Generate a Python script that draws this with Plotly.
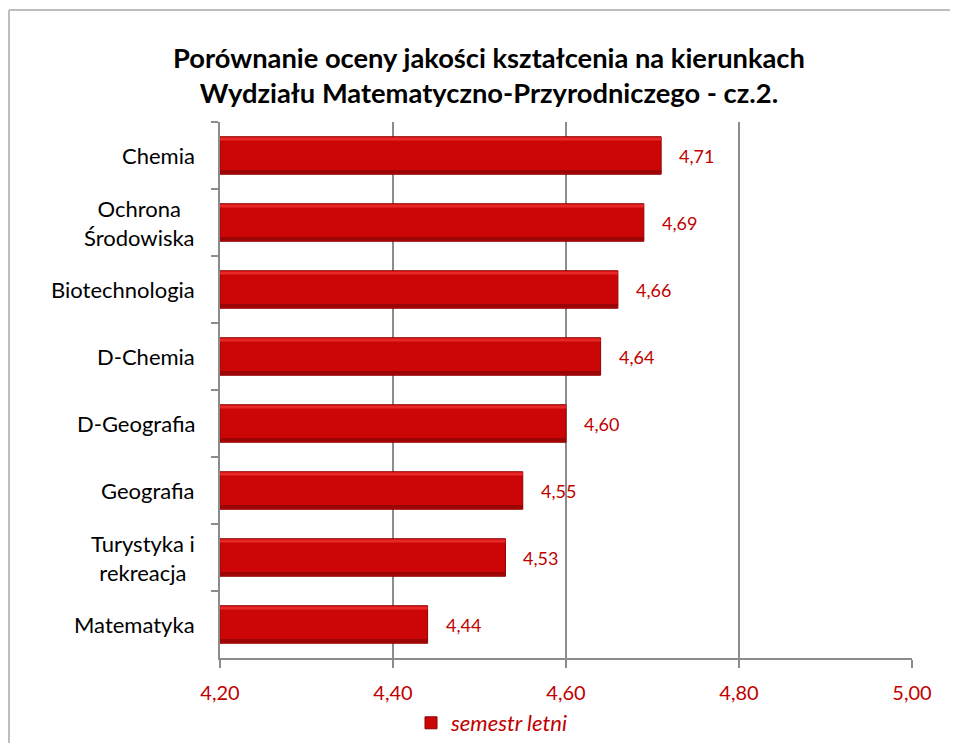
import plotly.graph_objects as go

categories = ["Chemia", "Ochrona Środowiska", "Biotechnologia", "D-Chemia",
              "D-Geografia", "Geografia", "Turystyka i rekreacja", "Matematyka"]
category_labels = ["Chemia", "Ochrona<br>Środowiska", "Biotechnologia", "D-Chemia",
                   "D-Geografia", "Geografia", "Turystyka i<br>rekreacja", "Matematyka"]
values = [4.71, 4.69, 4.66, 4.64, 4.60, 4.55, 4.53, 4.44]
x_ticks = [4.20, 4.40, 4.60, 4.80, 5.00]
x_tick_labels = ["4,20", "4,40", "4,60", "4,80", "5,00"]
series_name = "semestr letni"
title_lines = ["Porównanie oceny jakości kształcenia na kierunkach",
               "Wydziału Matematyczno-Przyrodniczego - cz.2."]

FONT = "Lato, Carlito, Calibri, sans-serif"
RED_TEXT = "#C00000"
BAR_W = 0.56
base = 4.20
lengths = [v - base for v in values]

# page offset (browser body margin) so figure coords = screen - OFF
OFF = 8
W, H = 942, 735
L, T = 220 - OFF, 122 - OFF
PR, PB = 912 - OFF, 658 - OFF
R, B = W - PR, H - PB
pw, ph = PR - L, PB - T


def cx(xs):
    return (xs - OFF) / W


def cy(ys):
    return 1 - (ys - OFF) / H


fig = go.Figure()
fig.add_trace(go.Bar(
    y=categories, x=lengths, base=base, orientation="h", width=BAR_W,
    name=series_name,
    marker=dict(color="#CC0606", line=dict(color="#8E0000", width=1)),
    showlegend=True, hoverinfo="skip",
))
fig.add_trace(go.Bar(
    y=categories, x=lengths, base=base, orientation="h", width=0.045,
    offset=-BAR_W / 2 + 0.012,
    marker=dict(color="#E82828", line=dict(width=0)),
    showlegend=False, hoverinfo="skip",
))
fig.add_trace(go.Bar(
    y=categories, x=lengths, base=base, orientation="h", width=0.05,
    offset=BAR_W / 2 - 0.062,
    marker=dict(color="#9A0505", line=dict(width=0)),
    showlegend=False, hoverinfo="skip",
))

annotations = []
for c, v in zip(categories, values):
    annotations.append(dict(
        x=v, y=c, xref="x", yref="y", text=f"{v:.2f}".replace(".", ","),
        xanchor="left", yanchor="middle", xshift=16, showarrow=False,
        font=dict(family=FONT, size=18, color=RED_TEXT),
    ))
for c, lab in zip(categories, category_labels):
    annotations.append(dict(
        x=0, y=c, xref="paper", yref="y", text=lab, align="center",
        xanchor="right", yanchor="middle", xshift=-23, showarrow=False,
        font=dict(family=FONT, size=22, color="#000000"),
    ))

# chart-area border: only the top and left edges are inside the picture
px_left = (OFF + 1 - OFF - L) / pw
py_top = (PB - (10 - OFF)) / ph
border = dict(color="#BDBDBD", width=2)
shapes = [
    dict(type="line", xref="paper", yref="paper", x0=px_left, x1=1.2,
         y0=py_top, y1=py_top, line=border, layer="below"),
    dict(type="line", xref="paper", yref="paper", x0=px_left, x1=px_left,
         y0=py_top, y1=-0.3, line=border, layer="below"),
]

fig.update_layout(
    width=W, height=H,
    margin=dict(l=L, r=R, t=T, b=B, autoexpand=False),
    paper_bgcolor="white", plot_bgcolor="white",
    barmode="overlay",
    title=dict(text="<br>".join("<b>" + t + "</b>" for t in title_lines),
               x=cx(489), xref="container", xanchor="center",
               y=cy(68), yref="container", yanchor="middle",
               font=dict(family=FONT, size=27.3, color="#000000")),
    xaxis=dict(range=[4.20, 5.00], tickvals=x_ticks, ticktext=x_tick_labels,
               showgrid=True, gridcolor="#8C8C8C", gridwidth=2,
               showline=True, linecolor="#8C8C8C", linewidth=2,
               ticks="outside", ticklen=8, tickcolor="#8C8C8C", tickwidth=2,
               ticklabelstandoff=8,
               tickfont=dict(family=FONT, size=20, color=RED_TEXT),
               zeroline=False, fixedrange=True),
    yaxis=dict(autorange="reversed", showticklabels=False,
               showline=True, linecolor="#8C8C8C", linewidth=2,
               ticks="outside", ticklen=7, tickcolor="#8C8C8C", tickwidth=2,
               tickson="boundaries", showgrid=False, fixedrange=True),
    legend=dict(orientation="h", xref="container", yref="container",
                x=cx(492), xanchor="center", y=cy(723), yanchor="middle",
                font=dict(family=FONT, size=22, color=RED_TEXT, style="italic"),
                itemwidth=30, bgcolor="rgba(0,0,0,0)"),
    annotations=annotations,
    shapes=shapes,
    showlegend=True,
)

fig.write_html("out.html")
